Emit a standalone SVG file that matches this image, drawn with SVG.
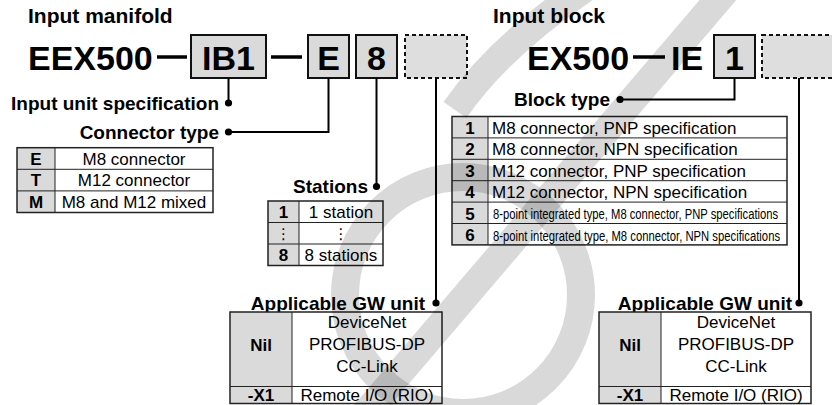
<svg xmlns="http://www.w3.org/2000/svg" width="832" height="405" viewBox="0 0 832 405">
<style>
text{font-family:"Liberation Sans",Arial,sans-serif;fill:#000}
.h{font-size:21px;font-weight:bold}
.big{font-size:34px;font-weight:bold}
.lbl{font-size:19px;font-weight:bold}
.t{font-size:17px}
.tb{font-size:17px;font-weight:bold}
.n{font-size:15px}
.c{text-anchor:middle}
.e{text-anchor:end}
.box{fill:#dadada;stroke:#111;stroke-width:2}
.dbox{fill:#dedede;stroke:#111;stroke-width:2;stroke-dasharray:4 3}
.dash{stroke:#000;stroke-width:3.5}
.ln{fill:none;stroke:#000;stroke-width:2}
.dot{fill:#000}
.k{fill:#dadada}
.out{fill:none;stroke:#222;stroke-width:1.5}
.in{stroke:#222;stroke-width:1}
.wm{fill:none;stroke:#000;stroke-opacity:0.15;stroke-width:28}
</style>

<g id="manifold-code">
<text class="h" x="28" y="23">Input manifold</text>
<text class="big" x="28" y="70">EEX500</text>
<line class="dash" x1="157" y1="57" x2="187" y2="57"/>
<rect class="box" x="191" y="35" width="75" height="43"/>
<text class="big c" x="228.5" y="70">IB1</text>
<line class="dash" x1="271" y1="57" x2="302" y2="57"/>
<rect class="box" x="308" y="35" width="41" height="43"/>
<text class="big c" x="328.5" y="70">E</text>
<rect class="box" x="356" y="35" width="41" height="43"/>
<text class="big c" x="376.5" y="70">8</text>
<rect class="dbox" x="405" y="35" width="62" height="43"/>
</g>

<g id="block-code">
<text class="h" x="493" y="23">Input block</text>
<text class="big" x="527" y="70">EX500</text>
<line class="dash" x1="633" y1="57" x2="665" y2="57"/>
<text class="big" x="671" y="70">IE</text>
<rect class="box" x="714" y="35" width="41" height="43"/>
<text class="big c" x="734.5" y="70">1</text>
<rect class="dbox" x="762" y="35" width="80" height="43"/>
</g>

<g id="connectors">
<polyline class="ln" points="228.5,78 228.5,103"/>
<circle class="dot" cx="228.5" cy="103" r="3.6"/>
<polyline class="ln" points="328.5,78 328.5,132 228.5,132"/>
<circle class="dot" cx="228.5" cy="132" r="3.6"/>
<polyline class="ln" points="376.5,78 376.5,186.5"/>
<circle class="dot" cx="376.5" cy="186.5" r="3.6"/>
<polyline class="ln" points="436,78 436,303"/>
<circle class="dot" cx="436" cy="303" r="3.6"/>
<polyline class="ln" points="734.5,78 734.5,99.5 620,99.5"/>
<circle class="dot" cx="620" cy="99.5" r="3.6"/>
<polyline class="ln" points="799,78 799,303"/>
<circle class="dot" cx="799" cy="303" r="3.6"/>
</g>

<g id="input-unit-spec">
<text class="lbl e" x="219" y="110">Input unit specification</text>
</g>

<g id="connector-type">
<text class="lbl e" x="219" y="139">Connector type</text>
<rect class="k" x="17" y="147.7" width="38" height="64.8"/>
<line class="in" x1="17" y1="169.3" x2="213" y2="169.3"/>
<line class="in" x1="17" y1="190.9" x2="213" y2="190.9"/>
<line class="in" x1="55" y1="147.7" x2="55" y2="212.5"/>
<rect class="out" x="17" y="147.7" width="196" height="64.8"/>
<text class="tb c" x="36" y="164.6">E</text>
<text class="tb c" x="36" y="186.2">T</text>
<text class="tb c" x="36" y="207.8">M</text>
<text class="t c" x="134" y="164.6">M8 connector</text>
<text class="t c" x="134" y="186.2">M12 connector</text>
<text class="t c" x="134" y="207.8">M8 and M12 mixed</text>
</g>

<g id="stations">
<text class="lbl e" x="368" y="193">Stations</text>
<rect class="k" x="268" y="201" width="31" height="64.5"/>
<line class="in" x1="268" y1="222.5" x2="383" y2="222.5"/>
<line class="in" x1="268" y1="244" x2="383" y2="244"/>
<line class="in" x1="299" y1="201" x2="299" y2="265.5"/>
<rect class="out" x="268" y="201" width="115" height="64.5"/>
<text class="tb c" x="283.5" y="218">1</text>
<text class="c" x="283.5" y="239" style="font-family:'DejaVu Sans',sans-serif;font-size:15px">⋮</text>
<text class="tb c" x="283.5" y="261">8</text>
<text class="t c" x="341" y="218">1 station</text>
<text class="c" x="341" y="239" style="font-family:'DejaVu Sans',sans-serif;font-size:15px">⋮</text>
<text class="t c" x="341" y="261">8 stations</text>
</g>

<g id="block-type">
<text class="lbl e" x="610" y="106">Block type</text>
<rect class="k" x="452" y="116.5" width="36" height="128.4"/>
<line class="in" x1="452" y1="137.9" x2="787" y2="137.9"/>
<line class="in" x1="452" y1="159.3" x2="787" y2="159.3"/>
<line class="in" x1="452" y1="180.7" x2="787" y2="180.7"/>
<line class="in" x1="452" y1="202.1" x2="787" y2="202.1"/>
<line class="in" x1="452" y1="223.5" x2="787" y2="223.5"/>
<line class="in" x1="488" y1="116.5" x2="488" y2="244.9"/>
<rect class="out" x="452" y="116.5" width="335" height="128.4"/>
<text class="tb c" x="470" y="133.5">1</text>
<text class="tb c" x="470" y="155">2</text>
<text class="tb c" x="470" y="176.5">3</text>
<text class="tb c" x="470" y="198">4</text>
<text class="tb c" x="470" y="219.5">5</text>
<text class="tb c" x="470" y="241">6</text>
<text class="t" x="492" y="133.5">M8 connector, PNP specification</text>
<text class="t" x="492" y="155">M8 connector, NPN specification</text>
<text class="t" x="492" y="176.5">M12 connector, PNP specification</text>
<text class="t" x="492" y="198">M12 connector, NPN specification</text>
<text class="n" transform="translate(493,219) scale(0.749,1)">8-point integrated type, M8 connector, PNP specifications</text>
<text class="n" transform="translate(493,240.5) scale(0.752,1)">8-point integrated type, M8 connector, NPN specifications</text>
</g>

<g id="gw-manifold">
<text class="lbl e" x="425" y="310">Applicable GW unit</text>
<rect class="k" x="230" y="312" width="62" height="91.5"/>
<line class="in" x1="230" y1="386.5" x2="442" y2="386.5"/>
<line class="in" x1="292" y1="312" x2="292" y2="403.5"/>
<rect class="out" x="230" y="312" width="212" height="91.5"/>
<text class="tb c" x="261" y="351">Nil</text>
<text class="tb c" x="261" y="401">-X1</text>
<text class="t c" x="367" y="328">DeviceNet</text>
<text class="t c" x="367" y="350">PROFIBUS-DP</text>
<text class="t c" x="367" y="372">CC-Link</text>
<text class="t c" x="367" y="401">Remote I/O (RIO)</text>
</g>

<g id="gw-block">
<text class="lbl e" x="792" y="310">Applicable GW unit</text>
<rect class="k" x="599" y="312" width="62" height="91.5"/>
<line class="in" x1="599" y1="386.5" x2="811" y2="386.5"/>
<line class="in" x1="661" y1="312" x2="661" y2="403.5"/>
<rect class="out" x="599" y="312" width="212" height="91.5"/>
<text class="tb c" x="630" y="351">Nil</text>
<text class="tb c" x="630" y="401">-X1</text>
<text class="t c" x="736" y="328">DeviceNet</text>
<text class="t c" x="736" y="350">PROFIBUS-DP</text>
<text class="t c" x="736" y="372">CC-Link</text>
<text class="t c" x="736" y="401">Remote I/O (RIO)</text>
</g>

<g id="watermark">
<circle class="wm" cx="463" cy="295" r="118"/>
<line class="wm" x1="334" y1="450" x2="735" y2="-20"/>
<path class="wm" d="M455 110 Q500 45 590 -15"/>
</g>
</svg>
